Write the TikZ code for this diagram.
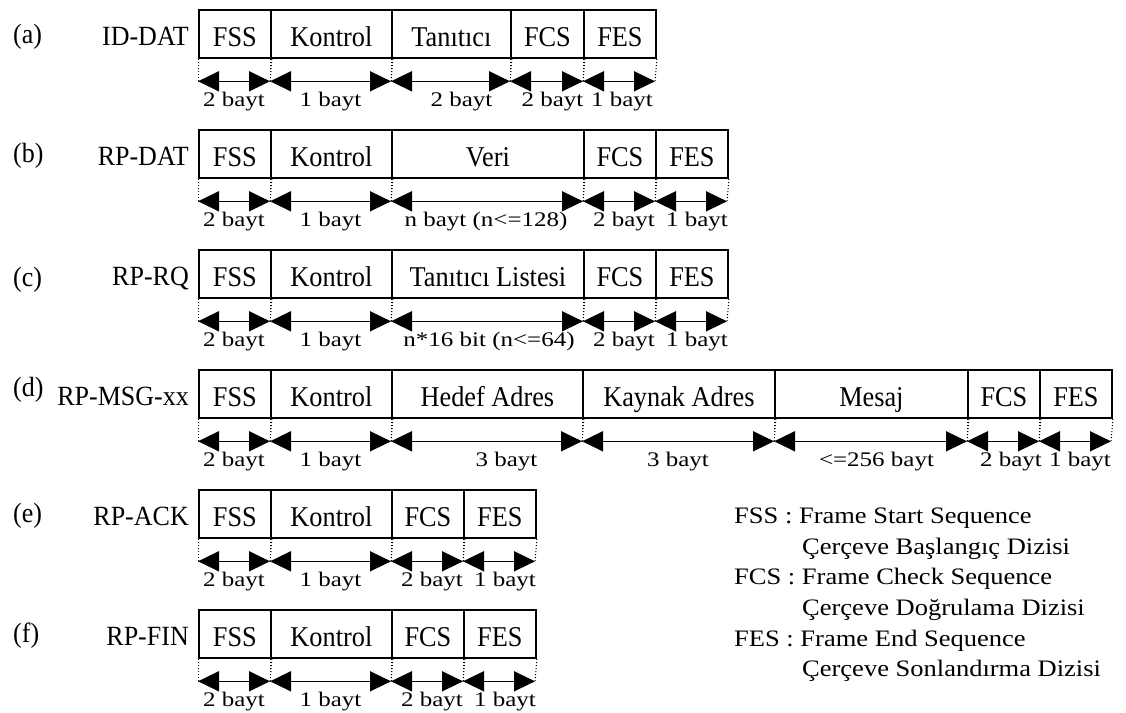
\documentclass[tikz,border=0pt]{standalone}
\usepackage{fontspec}
\setmainfont{Liberation Serif}
\usepackage{graphicx}
\usetikzlibrary{arrows.meta,calc}

% vertical stretch of a piece of text
\newcommand{\vstretch}[2]{\scalebox{1}[#1]{#2}}

\tikzset{
  fieldbox/.style={draw, line width=1.8pt, minimum height=48pt, inner sep=0pt,
    anchor=north west, text height=24.8pt, text depth=0pt,
    font=\fontsize{26.3}{30}\selectfont},
  guide/.style={dotted, line width=1pt},
  span/.style={line width=1.6pt, {Triangle[length=21pt,width=20pt]}-{Triangle[length=21pt,width=20pt]}},
  sizelbl/.style={anchor=base, inner sep=0pt, font=\fontsize{25}{28}\selectfont},
  rowname/.style={anchor=base east, inner sep=0pt, font=\fontsize{26}{30}\selectfont},
  rowtag/.style={anchor=base west, inner sep=0pt, font=\fontsize{26}{30}\selectfont},
  legend/.style={anchor=base west, inner sep=0pt, font=\fontsize{26.5}{30}\selectfont},
}

% one frame field: id, left x, right x, top y, text, size label, label shift
\newcommand{\fld}[7]{%
  \node[fieldbox, minimum width={(#3-#2)*1pt}] (#1) at (#2,#4) {\vstretch{1.09}{#5}};
  \coordinate (#1-l) at (#2,#4+72);
  \coordinate (#1-r) at (#3,#4+72);
  \draw[guide] (#1.south west) -- (#1-l);
  \draw[guide] (#1.south east) -- (#1-r);
  \draw[span] (#1-l) -- (#1-r);
  \node[sizelbl] (#1-t) at ($(#1-l)!0.5!(#1-r)+(#7,25)$) {\vstretch{0.83}{#6}};
}

% frame name and tag: id, top y, tag, name, tag shift
\newcommand{\frm}[5]{%
  \node[rowname] (#1-name) at (189,#2+36.4) {\vstretch{1.07}{#4}};
  \node[rowtag] (#1-tag) at (13,#2+36.4+#5) {\vstretch{1.07}{#3}};
}

\begin{document}
\begin{tikzpicture}[x=1pt,y=-1pt]
\useasboundingbox (0,0) rectangle (1126,712);

% (a) ID-DAT
\frm{a}{9.3}{(a)}{ID-DAT}{-2}
\fld{a1}{198}{270}{9.3}{FSS}{2 bayt}{0}
\fld{a2}{270}{391}{9.3}{Kontrol}{1 bayt}{0}
\fld{a3}{391}{510}{9.3}{Tanıtıcı}{2 bayt}{11}
\fld{a4}{510}{583}{9.3}{FCS}{2 bayt}{6}
\fld{a5}{583}{655}{9.3}{FES}{1 bayt}{3}

% (b) RP-DAT
\frm{b}{129.3}{(b)}{RP-DAT}{-3}
\fld{b1}{198}{270}{129.3}{FSS}{2 bayt}{0}
\fld{b2}{270}{391}{129.3}{Kontrol}{1 bayt}{0}
\fld{b3}{391}{583}{129.3}{Veri}{n bayt (n<=128)}{-1}
\fld{b4}{583}{655}{129.3}{FCS}{2 bayt}{5}
\fld{b5}{655}{727}{129.3}{FES}{1 bayt}{6}

% (c) RP-RQ
\frm{c}{249.3}{(c)}{RP-RQ}{1}
\fld{c1}{198}{270}{249.3}{FSS}{2 bayt}{0}
\fld{c2}{270}{391}{249.3}{Kontrol}{1 bayt}{0}
\fld{c3}{391}{583}{249.3}{Tanıtıcı Listesi}{n*16 bit (n<=64)}{2}
\fld{c4}{583}{655}{249.3}{FCS}{2 bayt}{5}
\fld{c5}{655}{727}{249.3}{FES}{1 bayt}{6}

% (d) RP-MSG-xx
\frm{d}{369.3}{(d)}{RP-MSG-xx}{-9}
\fld{d1}{198}{270}{369.3}{FSS}{2 bayt}{0}
\fld{d2}{270}{391}{369.3}{Kontrol}{1 bayt}{0}
\fld{d3}{391}{582}{369.3}{Hedef Adres}{3 bayt}{20}
\fld{d4}{582}{774}{369.3}{Kaynak Adres}{3 bayt}{0}
\fld{d5}{774}{967}{369.3}{Mesaj}{<=256 bayt}{6}
\fld{d6}{967}{1039}{369.3}{FCS}{2 bayt}{8}
\fld{d7}{1039}{1111}{369.3}{FES}{1 bayt}{5}

% (e) RP-ACK
\frm{e}{489.3}{(e)}{RP-ACK}{-3}
\fld{e1}{198}{270}{489.3}{FSS}{2 bayt}{0}
\fld{e2}{270}{391}{489.3}{Kontrol}{1 bayt}{0}
\fld{e3}{391}{463}{489.3}{FCS}{2 bayt}{5}
\fld{e4}{463}{535}{489.3}{FES}{1 bayt}{6}

% (f) RP-FIN
\frm{f}{609.3}{(f)}{RP-FIN}{-3}
\fld{f1}{198}{270}{609.3}{FSS}{2 bayt}{0}
\fld{f2}{270}{391}{609.3}{Kontrol}{1 bayt}{0}
\fld{f3}{391}{463}{609.3}{FCS}{2 bayt}{5}
\fld{f4}{463}{535}{609.3}{FES}{1 bayt}{6}

% abbreviations
\node[legend] (k1) at (734,523.7) {\vstretch{0.89}{FSS : Frame Start Sequence}};
\node[legend] (k2) at (802,554.3) {\vstretch{0.89}{Çerçeve Başlangıç Dizisi}};
\node[legend] (k3) at (734,584.9) {\vstretch{0.89}{FCS : Frame Check Sequence}};
\node[legend] (k4) at (802,615.5) {\vstretch{0.89}{Çerçeve Doğrulama Dizisi}};
\node[legend] (k5) at (734,646.1) {\vstretch{0.89}{FES : Frame End Sequence}};
\node[legend] (k6) at (802,676.7) {\vstretch{0.89}{Çerçeve Sonlandırma Dizisi}};
\end{tikzpicture}
\end{document}
